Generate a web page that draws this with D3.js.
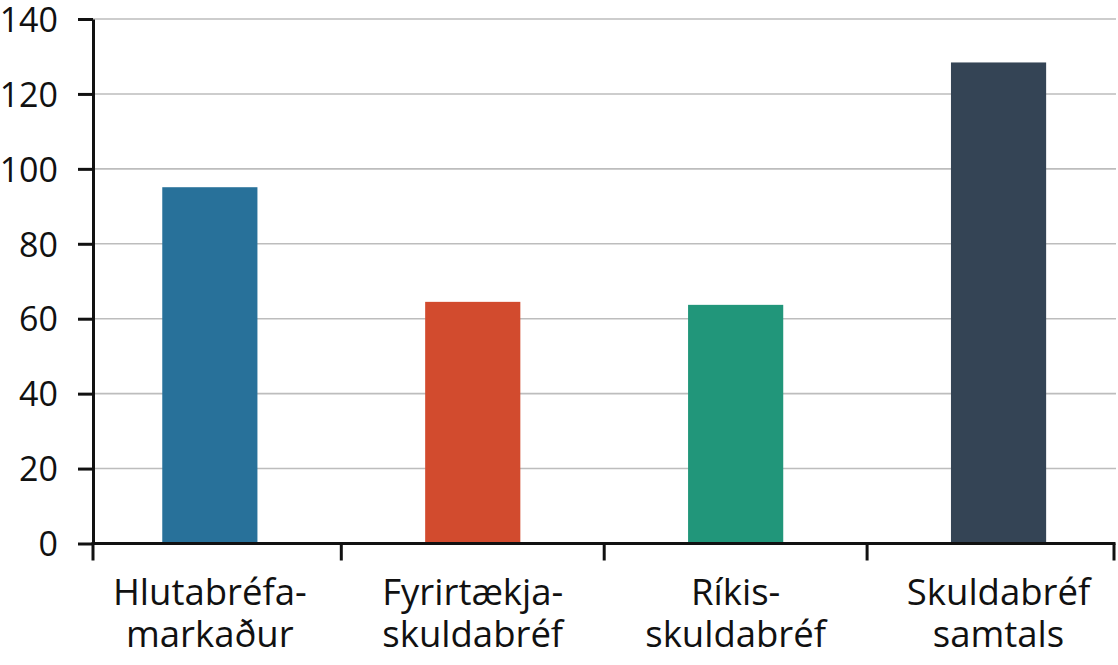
<!DOCTYPE html>
<html lang="is">
<head>
<meta charset="utf-8">
<title>Skuldabréf</title>
<script src="https://d3js.org/d3.v7.min.js"></script>
<style>
  body { margin: 0; background: #fff; }
  text { font-family: "Open Sans", "Noto Sans", sans-serif; fill: #111; }
</style>
</head>
<body>
<div id="chart"></div>
<script>
// Data
const categories = ["Hlutabréfamarkaður", "Fyrirtækjaskuldabréf", "Ríkisskuldabréf", "Skuldabréf samtals"];
const labelLines = [["Hlutabréfa-", "markaður"], ["Fyrirtækja-", "skuldabréf"], ["Ríkis-", "skuldabréf"], ["Skuldabréf", "samtals"]];
const values = [95.1, 64.5, 63.7, 128.4];
const barColors = ["#28719a", "#d24b2e", "#21967a", "#344455"];
const yTicks = [0, 20, 40, 60, 80, 100, 120, 140];

const width = 1118;
const height = 665;
const axisLeftX = 93;
const axisRightX = 1114;
const baseY = 543.5;
const topY = 19;

const svg = d3.select("#chart").append("svg")
  .attr("width", width)
  .attr("height", height);

// Scales
const x = d3.scaleBand()
  .domain(categories)
  .range([78.4, 1130])
  .paddingInner(0.638)
  .paddingOuter(0.319);

const y = d3.scaleLinear()
  .domain([0, 140])
  .range([baseY, topY]);

// Gridlines
svg.append("g")
  .selectAll("line")
  .data(yTicks.filter(d => d > 0))
  .enter().append("line")
  .attr("x1", axisLeftX)
  .attr("x2", 1116)
  .attr("y1", d => y(d))
  .attr("y2", d => y(d))
  .attr("stroke", "#bdbdbd")
  .attr("stroke-width", 1.6);

// Bars
svg.append("g")
  .selectAll("rect")
  .data(values)
  .enter().append("rect")
  .attr("x", (d, i) => x(categories[i]))
  .attr("y", d => y(d))
  .attr("width", x.bandwidth())
  .attr("height", d => y(0) - y(d))
  .attr("fill", (d, i) => barColors[i]);

// Y axis
const yAxis = svg.append("g")
  .attr("transform", `translate(${axisLeftX},0)`)
  .call(d3.axisLeft(y).tickValues(yTicks).tickSize(15).tickPadding(20).tickSizeOuter(0));

yAxis.select(".domain").attr("stroke", "#111").attr("stroke-width", 3);
yAxis.selectAll(".tick line").attr("stroke", "#111").attr("stroke-width", 3);
yAxis.selectAll(".tick text")
  .attr("font-size", 34)
  .attr("font-family", "'Open Sans', 'Noto Sans', sans-serif")
  .attr("fill", "#111")
  .attr("dy", "0.36em");

// X axis line and category boundary ticks
const centers = categories.map(c => x(c) + x.bandwidth() / 2);
const boundaries = [axisLeftX];
for (let i = 1; i < centers.length; i++) boundaries.push((centers[i - 1] + centers[i]) / 2);
boundaries.push(axisRightX);

svg.append("line")
  .attr("x1", axisLeftX - 1.5)
  .attr("x2", axisRightX + 1.5)
  .attr("y1", baseY)
  .attr("y2", baseY)
  .attr("stroke", "#111")
  .attr("stroke-width", 3);

svg.append("g")
  .selectAll("line")
  .data(boundaries)
  .enter().append("line")
  .attr("x1", d => d)
  .attr("x2", d => d)
  .attr("y1", baseY)
  .attr("y2", baseY + 17)
  .attr("stroke", "#111")
  .attr("stroke-width", 3);

// Category labels
const labels = svg.append("g")
  .selectAll("text")
  .data(labelLines)
  .enter().append("text")
  .attr("text-anchor", "middle")
  .attr("font-size", 36.5);

labels.selectAll("tspan")
  .data(d => d)
  .enter().append("tspan")
  .attr("x", function () { return centers[labelLines.indexOf(d3.select(this.parentNode).datum())]; })
  .attr("y", (d, i) => 605 + i * 42)
  .text(d => d);
</script>
</body>
</html>
